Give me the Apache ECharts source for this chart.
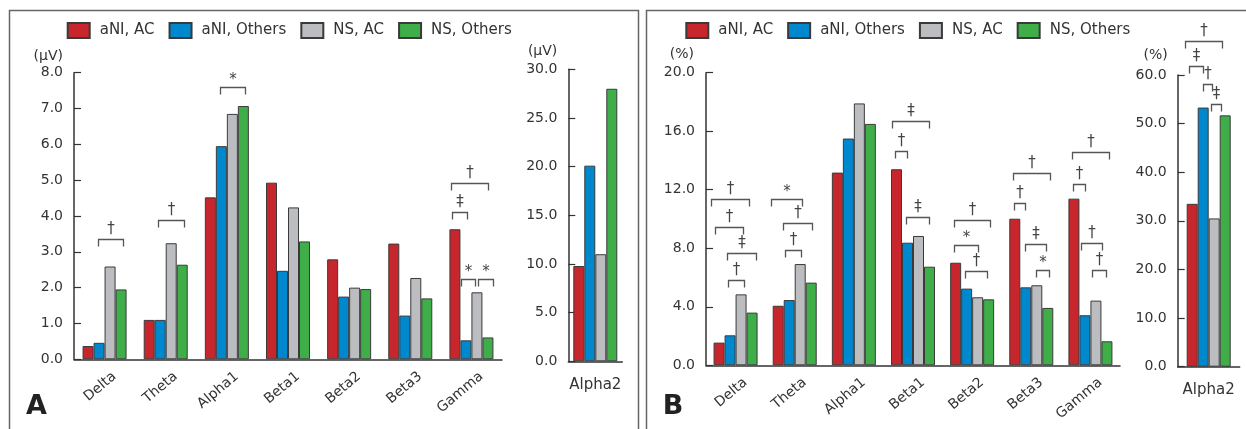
<!DOCTYPE html>
<html><head><meta charset="utf-8">
<script src="https://cdn.jsdelivr.net/npm/echarts@6/dist/echarts.min.js"></script>
<style>html,body{margin:0;padding:0;background:#fff}#c{width:1246px;height:429px}</style>
</head><body><div id="c"></div>
<script>
// ---------- data ----------
const categories = ['Delta', 'Theta', 'Alpha1', 'Beta1', 'Beta2', 'Beta3', 'Gamma'];
const alpha2Category = ['Alpha2'];
const seriesNames = ['aNI, AC', 'aNI, Others', 'NS, AC', 'NS, Others'];

// Panel A: absolute power (μV)
const ampAniAC  = [0.37, 1.10, 4.52, 4.93, 2.79, 3.23, 3.63];
const ampAniOth = [0.46, 1.10, 5.95, 2.47, 1.75, 1.22, 0.53];
const ampNsAC   = [2.59, 3.24, 6.85, 4.24, 2.00, 2.27, 1.87];
const ampNsOth  = [1.95, 2.64, 7.07, 3.29, 1.96, 1.70, 0.61];
const ampAlpha2 = [9.79, 20.1, 11.0, 28.0];

// Panel B: relative power (%)
const relAniAC  = [1.55, 4.07, 13.17, 13.40, 7.01, 10.02, 11.39];
const relAniOth = [2.05, 4.46, 15.50, 8.38, 5.24, 5.33, 3.42];
const relNsAC   = [4.85, 6.92, 17.90, 8.84, 4.65, 5.47, 4.42];
const relNsOth  = [3.60, 5.65, 16.50, 6.74, 4.51, 3.92, 1.64];
const relAlpha2 = [33.5, 53.3, 30.5, 51.7];

// significance brackets: [category index, from bar pos, to bar pos, level (axis units), symbol]
const bracketsAmp = [
  [0, 0.86, 3.19, 3.35, '†'], [1, 0.80, 3.14, 3.88, '†'], [2, 0.89, 3.19, 7.60, '*'],
  [6, -0.32, 3.01, 4.92, '†'], [6, -0.26, 1.10, 4.11, '‡'], [6, 0.55, 1.86, 2.24, '*'], [6, 2.10, 3.46, 2.24, '*']
];
const bracketsRel = [
  [0, -0.72, 2.74, 11.39, '†'], [0, -0.41, 2.22, 9.43, '†'], [0, 0.75, 3.38, 7.68, '‡'], [0, 0.84, 2.28, 5.85, '†'],
  [1, -0.68, 2.16, 11.35, '*'], [1, 0.42, 3.05, 9.70, '†'], [1, 0.63, 2.10, 7.88, '†'],
  [3, -0.38, 2.92, 16.72, '‡'], [3, -0.11, 0.99, 14.65, '†'], [3, 0.84, 2.99, 10.12, '‡'],
  [4, -0.17, 3.13, 9.95, '†'], [4, -0.13, 2.07, 8.24, '*'], [4, 0.88, 2.83, 6.47, '†'],
  [5, -0.16, 3.23, 13.17, '†'], [5, -0.10, 0.97, 11.07, '†'], [5, 0.97, 2.86, 8.27, '‡'], [5, 1.89, 3.11, 6.53, '*'],
  [6, -0.17, 3.20, 14.60, '†'], [6, -0.10, 1.00, 12.37, '†'], [6, 0.63, 2.53, 8.38, '†'], [6, 1.66, 2.88, 6.51, '†']
];
const bracketsRelAlpha2 = [
  [0, -0.65, 2.68, 66.9, '†'], [0, -0.32, 0.95, 61.9, '‡'], [0, 0.95, 1.83, 58.2, '†'], [0, 1.71, 2.59, 54.1, '‡']
];

// ---------- style ----------
const colors = ['#C8262D', '#0088CE', '#BCBDC0', '#3FAE49'];
const FONT = 'DejaVu Sans';
const TXT = '#333';
const BAR_W = 11;

const chart = echarts.init(document.getElementById('c'), null, { renderer: 'canvas' });

const grids = [
  { left: 74,     top: 72.7, width: 428, height: 286.6 },
  { left: 568.3,  top: 69.3, width: 54,  height: 292 },
  { left: 706,    top: 72.7, width: 414, height: 292.6 },
  { left: 1177.7, top: 75,   width: 62,  height: 291.7 }
].map(g => Object.assign({ containLabel: false, outerBoundsMode: 'none' }, g));

function xAx(gi, data, rotate) {
  return {
    type: 'category', gridIndex: gi, data: data,
    axisLine: { lineStyle: { color: '#333', width: 1.5 } },
    axisTick: { show: false },
    axisLabel: rotate
      ? { rotate: 40, fontSize: 14, fontFamily: FONT, color: TXT, margin: 3.6, interval: 0,
          verticalAlign: 'top', lineHeight: 31 }
      : { rotate: 0, fontSize: 15, fontFamily: FONT, color: TXT, margin: 16 }
  };
}
function yAx(gi, max, interval, unit, padR, gap) {
  return {
    type: 'value', gridIndex: gi, min: 0, max: max, interval: interval,
    axisLine: { show: true, lineStyle: { color: '#333', width: 1.5 } },
    axisTick: { show: true, inside: true, length: 7, lineStyle: { color: '#333', width: 1.2 } },
    splitLine: { show: false },
    axisLabel: { fontSize: 14, fontFamily: FONT, color: TXT, margin: 11, formatter: v => v.toFixed(1) },
    name: unit, nameLocation: 'end', nameGap: gap,
    nameTextStyle: { fontSize: 14, fontFamily: FONT, color: TXT, align: 'right', padding: [0, padR, 0, 0] }
  };
}

function barSeries(gi, arrays) {
  return arrays.map((arr, k) => ({
    type: 'bar', name: seriesNames[k], xAxisIndex: gi, yAxisIndex: gi,
    data: arr, barWidth: BAR_W, barGap: '0%',
    itemStyle: { color: colors[k], borderColor: '#3a3a3a', borderWidth: 1 },
    emphasis: { disabled: true }, animation: false
  }));
}

const alpha2AmpSeries = ampAlpha2.map(v => [v]);
const alpha2RelSeries = relAlpha2.map(v => [v]);

function legendAt(left) {
  return {
    data: seriesNames, left: left, top: 22, orient: 'horizontal', icon: 'rect',
    itemWidth: 22, itemHeight: 15, itemGap: 14, padding: 0, selectedMode: false,
    textStyle: { fontSize: 15, fontFamily: FONT, color: TXT, padding: [0, 0, 0, 5] }
  };
}

chart.setOption({
  animation: false,
  backgroundColor: '#fff',
  legend: [legendAt(66.7), legendAt(685.3)],
  grid: grids,
  xAxis: [xAx(0, categories, true), xAx(1, alpha2Category, false), xAx(2, categories, true), xAx(3, alpha2Category, false)],
  yAxis: [yAx(0, 8, 1, '(μV)', 11, 9), yAx(1, 30, 5, '(μV)', 11, 11), yAx(2, 20, 4, '(%)', 12, 11), yAx(3, 60, 10, '(%)', 10, 13)],
  series: [].concat(
    barSeries(0, [ampAniAC, ampAniOth, ampNsAC, ampNsOth]),
    barSeries(1, alpha2AmpSeries),
    barSeries(2, [relAniAC, relAniOth, relNsAC, relNsOth]),
    barSeries(3, alpha2RelSeries)
  )
});

function bracketEls(list, axisIdx) {
  const els = [];
  list.forEach(([cat, p1, p2, val, sym]) => {
    const cx = chart.convertToPixel({ xAxisIndex: axisIdx }, cat);
    const y = Math.round(chart.convertToPixel({ yAxisIndex: axisIdx }, val)) + 0.5;
    const x1 = Math.round(cx + (p1 - 1.5) * BAR_W) + 0.5;
    const x2 = Math.round(cx + (p2 - 1.5) * BAR_W) + 0.5;
    els.push({
      type: 'polyline', silent: true,
      shape: { points: [[x1, y + 7], [x1, y], [x2, y], [x2, y + 7]] },
      style: { stroke: '#555', lineWidth: 1.3, fill: null }
    });
    els.push({
      type: 'text', silent: true, x: (x1 + x2) / 2, y: y - (sym === '*' ? 7 : 10),
      style: { text: sym, fill: '#444', fontSize: 15, fontFamily: FONT, align: 'center', verticalAlign: 'middle' }
    });
  });
  return els;
}

const graphics = [
  { type: 'rect', silent: true, shape: { x: 9.5, y: 10.5, width: 629, height: 440 },
    style: { fill: null, stroke: '#666', lineWidth: 1.5 } },
  { type: 'rect', silent: true, shape: { x: 646.5, y: 10.5, width: 640, height: 440 },
    style: { fill: null, stroke: '#666', lineWidth: 1.5 } },
  { type: 'text', silent: true, x: 36.5, y: 407,
    style: { text: 'A', fill: '#222', fontSize: 27, fontWeight: 'bold', fontFamily: FONT, align: 'center', verticalAlign: 'middle' } },
  { type: 'text', silent: true, x: 673, y: 407,
    style: { text: 'B', fill: '#222', fontSize: 27, fontWeight: 'bold', fontFamily: FONT, align: 'center', verticalAlign: 'middle' } }
].concat(bracketEls(bracketsAmp, 0), bracketEls(bracketsRel, 2), bracketEls(bracketsRelAlpha2, 3));

chart.setOption({ graphic: graphics });
</script></body></html>
